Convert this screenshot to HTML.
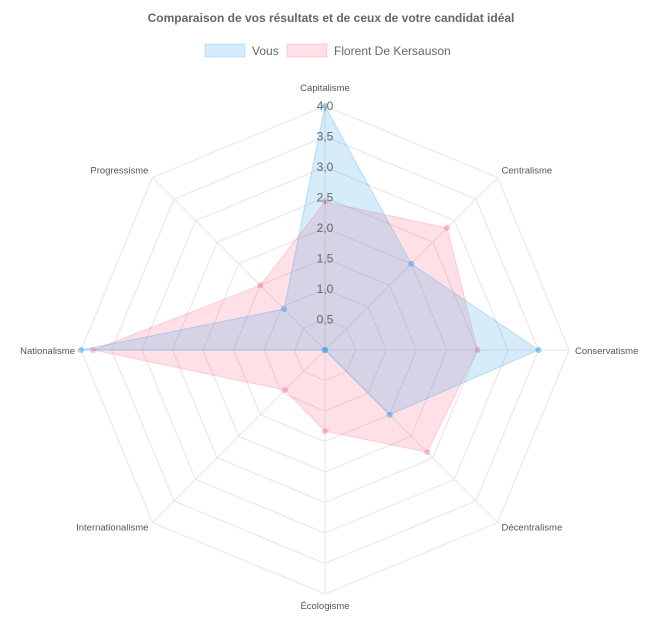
<!DOCTYPE html><html><head><style>body{margin:0;background:#fff;width:662px;height:632px;overflow:hidden}svg{display:block}</style></head><body>
<svg width="662" height="632" xmlns="http://www.w3.org/2000/svg" font-family="Liberation Sans, sans-serif">
<text x="331" y="22" text-anchor="middle" font-size="12" font-weight="bold" fill="#666">Comparaison de vos résultats et de ceux de votre candidat idéal</text>
<rect x="205" y="44" width="40" height="13" fill="rgba(54,162,235,0.2)" stroke="rgba(54,162,235,0.25)"/>
<text x="252" y="55" font-size="12" fill="#666">Vous</text>
<rect x="287" y="44" width="40" height="13" fill="rgba(255,99,132,0.2)" stroke="rgba(255,99,132,0.25)"/>
<text x="334" y="55" font-size="12" fill="#666">Florent De Kersauson</text>
<g id="g"></g>
<script>
var cx=325,cy=350,R=244,ns="http://www.w3.org/2000/svg",g=document.getElementById('g');
function pt(i,v){var a=-Math.PI/2+i*Math.PI/4,r=v/4*R;return[cx+r*Math.cos(a),cy+r*Math.sin(a)];}
function el(t,at){var e=document.createElementNS(ns,t);for(var k in at)e.setAttribute(k,at[k]);g.appendChild(e);return e;}
for(var s=1;s<=8;s++){var p=[];for(var i=0;i<8;i++)p.push(pt(i,s*0.5).join(','));el('polygon',{points:p.join(' '),fill:'none',stroke:'#e5e5e5','stroke-width':1});}
for(var i=0;i<8;i++){var q=pt(i,4);el('line',{x1:cx,y1:cy,x2:q[0],y2:q[1],stroke:'#e5e5e5'});}
var labels=['Capitalisme','Centralisme','Conservatisme','Décentralisme','Écologisme','Internationalisme','Nationalisme','Progressisme'];
var anc=['middle','start','start','start','middle','end','end','end'];
var off=[[0,-15],[4,-4],[6,4],[4,8],[0,15],[-4,8],[-6,4],[-4,-4]];
for(var i=0;i<8;i++){var q=pt(i,4);var t=el('text',{x:q[0]+off[i][0],y:q[1]+off[i][1],'text-anchor':anc[i],'font-size':9.5,fill:'#555'});t.textContent=labels[i];}
var data=[[[4,2,3.5,1.5,0,0,4,0.95],'rgba(54,162,235,0.2)','rgba(54,162,235,0.3)','rgba(54,162,235,0.5)'],[[2.43,2.83,2.5,2.37,1.33,0.93,3.8,1.5],'rgba(255,99,132,0.2)','rgba(255,99,132,0.25)','rgba(255,99,132,0.4)']];
data.slice().reverse().forEach(function(d){var p=d[0].map(function(v,i){return pt(i,v).join(',')});el('polygon',{points:p.join(' '),fill:d[1],stroke:d[2],'stroke-width':1});
d[0].forEach(function(v,i){var q=pt(i,v);el('circle',{cx:q[0],cy:q[1],r:3,fill:d[3]});});});
for(var s=1;s<=8;s++){var t=el('text',{x:cx,y:cy-s*R/8+4,'text-anchor':'middle','font-size':12,fill:'#666'});t.textContent=(s*0.5).toFixed(1).replace('.',',');}
</script>
</svg></body></html>
